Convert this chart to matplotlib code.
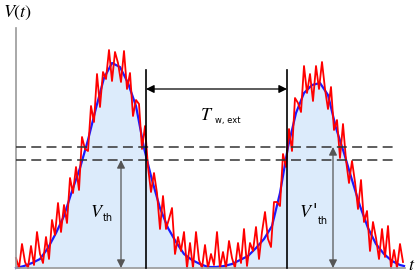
import numpy as np
import matplotlib
matplotlib.use("Agg")
import matplotlib.pyplot as plt

plt.rcParams["mathtext.fontset"] = "stix"

# smooth pulse (blue), sampled every 8 time units
blue_t = list(range(0, 385, 8)) + [388]
blue_v = [0, 2, 5, 9, 20, 35, 52, 77, 100, 128, 160, 190, 205, 201, 185, 162,
          120, 88, 60, 40, 26, 14, 8, 4, 1, 1, 2, 4, 8, 12, 20, 29,
          42, 75, 121, 155, 175, 183, 185, 173, 140, 115, 88, 62, 40, 24, 14, 7,
          3, 2]

# noisy measured signal (red), sampled every 3 time units
red_t = list(range(0, 388, 3))
red_v = [10, 0, 24, 6, 0, 22, 3, 36, 14, 5,
         31, 9, 48, 33, 65, 36, 63, 45, 90, 75,
         101, 78, 131, 119, 117, 162, 146, 194, 161, 196,
         189, 218, 187, 216, 205, 186, 217, 179, 195, 152,
         168, 164, 119, 142, 101, 76, 95, 75, 39, 72,
         39, 49, 60, 14, 31, 17, 36, 0, 25, 0,
         36, 8, 0, 23, 0, 14, 3, 36, 0, 16,
         0, 27, 10, 0, 25, 5, 39, 2, 25, 17,
         41, 9, 36, 56, 29, 21, 66, 66, 62, 114,
         101, 139, 117, 170, 165, 156, 202, 175, 194, 167,
         202, 179, 206, 179, 159, 181, 138, 148, 110, 144,
         108, 85, 107, 86, 59, 88, 46, 57, 17, 46,
         30, 9, 39, 11, 42, 0, 18, 0, 24, 6]

v_th = 108          # lower threshold
v_th_prime = 121    # upper threshold
t_fall = 130        # first pulse drops below V_th
t_rise = 271        # second pulse rises above V'_th

fig = plt.figure(figsize=(4.15, 2.79), dpi=100)
ax = fig.add_axes([0, 0, 1, 1])
ax.set_xlim(-16, 399)
ax.set_ylim(-11, 268)
ax.axis("off")

ax.fill_between(blue_t, blue_v, 0, color="#dcebfb", lw=0)
ax.plot(blue_t, blue_v, color="#1a1aff", lw=1.6)
ax.plot(red_t, red_v, color="#ff0000", lw=1.3)

# axes
ax.plot([0, 0], [0, 240], color="#999999", lw=1.2)
ax.plot([0, 389], [0, 0], color="#999999", lw=1.2)
ax.text(2, 255, "$V(t)$", fontsize=13, ha="center", va="center")
ax.text(396, -2, "$t$", fontsize=13, ha="center", va="baseline")

# thresholds
for v in (v_th, v_th_prime):
    ax.plot([0, 380], [v, v], color="#333333", lw=1.1, dashes=(6.5, 3.5))

# pulse edges
for tt in (t_fall, t_rise):
    ax.plot([tt, tt], [0, 198], color="black", lw=1.2)

arr = dict(arrowstyle="<|-|>", color="black", lw=0.9, shrinkA=0, shrinkB=0,
           mutation_scale=12)
ax.annotate("", xy=(t_fall, 179), xytext=(t_rise, 179), arrowprops=arr)
ax.text(191, 153, "$T$", fontsize=13, ha="center", va="center")
ax.text(199, 148, "w, ext", fontsize=6, ha="left", va="center")

arr2 = dict(arr, color="#555555")
ax.annotate("", xy=(105, v_th), xytext=(105, 0), arrowprops=arr2)
ax.annotate("", xy=(317, v_th_prime), xytext=(317, 0), arrowprops=arr2)
ax.text(81, 56, "$V$", fontsize=13, ha="center", va="center")
ax.text(87, 50, "th", fontsize=7, ha="left", va="center")
ax.text(290, 56, "$V$", fontsize=13, ha="center", va="center")
ax.text(299, 58, "'", fontsize=12, family="DejaVu Serif", style="italic",
        ha="center", va="center")
ax.text(302, 47, "th", fontsize=7, ha="left", va="center")

fig.savefig("out.png", dpi=100)
